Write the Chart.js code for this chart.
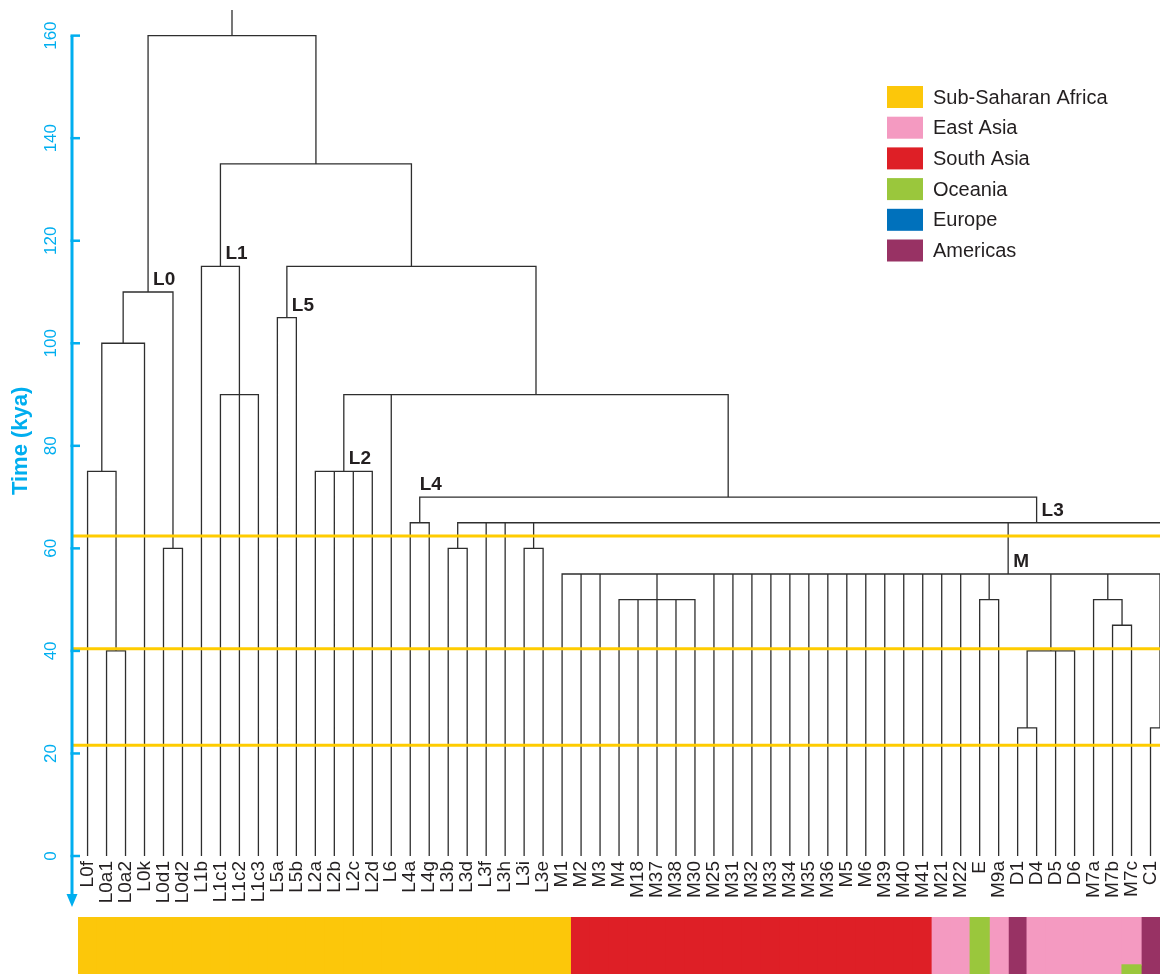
<!DOCTYPE html>
<html>
<head>
<meta charset="utf-8">
<script src="https://cdn.jsdelivr.net/npm/chart.js@4/dist/chart.umd.min.js"></script>
<style>
html, body { margin: 0; padding: 0; background: #fff; overflow: hidden; }
#wrap { position: relative; width: 1160px; height: 974px; }
#tree { position: absolute; left: 0; top: 0; }
#bar { position: absolute; left: 0; top: 917px; }
</style>
</head>
<body>
<div id="wrap">
  <canvas id="tree" width="1160" height="915"></canvas>
  <canvas id="bar" width="1160" height="57"></canvas>
</div>
<script>
// ---------------- DATA ----------------
const leaves = ['L0f','L0a1','L0a2','L0k','L0d1','L0d2','L1b','L1c1','L1c2','L1c3','L5a','L5b',
  'L2a','L2b','L2c','L2d','L6','L4a','L4g','L3b','L3d','L3f','L3h','L3i','L3e',
  'M1','M2','M3','M4','M18','M37','M38','M30','M25','M31','M32','M33','M34','M35','M36',
  'M5','M6','M39','M40','M41','M21','M22','E','M9a','D1','D4','D5','D6','M7a','M7b','M7c','C1'];

// lineages that continue beyond the right edge of the cropped figure (unlabelled)
const offFrameLeaves = ['>1','>2','>3','>4','>5','>6','>7','>8','>9','>10','>11','>12','>13','>14','>15','>16',
  '>17','>18','>19','>20','>21','>22','>23','>24','>25','>26','>27','>28','>29','>30','>31','>32'];

// internal nodes (listed children-first), their ages (kya) and children
const nodeNames = ['L0a','L0fa','L0fak','L0d','L0','L1c','L1','L5','L2','L4','L3bd','L3ie',
  'M4grp','EM9a','D1D4','D','M7bc','M7','C','M','N','L3','L3L4','L2L6','L5L2','L1L5','root'];
const nodeHeights = [40, 75, 100, 60, 110, 90, 115, 105, 75, 65, 60, 60,
  50, 50, 25, 40, 45, 50, 25, 55, 60, 65, 70, 90, 115, 135, 160];
const nodeChildren = [
  ['L0a1','L0a2'],
  ['L0f','L0a'],
  ['L0fa','L0k'],
  ['L0d1','L0d2'],
  ['L0fak','L0d'],
  ['L1c1','L1c2','L1c3'],
  ['L1b','L1c'],
  ['L5a','L5b'],
  ['L2a','L2b','L2c','L2d'],
  ['L4a','L4g'],
  ['L3b','L3d'],
  ['L3i','L3e'],
  ['M4','M18','M37','M38','M30'],
  ['E','M9a'],
  ['D1','D4'],
  ['D1D4','D5','D6'],
  ['M7b','M7c'],
  ['M7a','M7bc'],
  ['C1','>1'],
  ['M1','M2','M3','M4grp','M25','M31','M32','M33','M34','M35','M36','M5','M6','M39','M40','M41',
   'M21','M22','EM9a','D','M7','C','>2','>3','>4','>5','>6','>7','>8','>9','>10','>11','>12',
   '>13','>14','>15','>16'],
  ['>17','>18','>19','>20','>21','>22','>23','>24','>25','>26','>27','>28','>29','>30','>31','>32'],
  ['L3bd','L3f','L3h','L3ie','M','N'],
  ['L4','L3'],
  ['L2','L6','L3L4'],
  ['L5','L2L6'],
  ['L1','L5L2'],
  ['L0','L1L5']
];
const rootStemTop = 165;

const cladeLabels = ['L0','L1','L5','L2','L4','L3','M'];
const cladeLabelAtJoin = ['L4'];

const yTicks = [0, 20, 40, 60, 80, 100, 120, 140, 160];
const yTitle = 'Time (kya)';
const referenceLines = [62.4, 40.4, 21.6];

const regionCodes = ['AF','EA','SA','OC','EU','AM'];
const regionNames = ['Sub-Saharan Africa','East Asia','South Asia','Oceania','Europe','Americas'];
const regionColors = ['#FCC70A','#F49AC1','#DE1F26','#9AC73C','#0071BC','#983264'];
const leafRegion = ['AF','AF','AF','AF','AF','AF','AF','AF','AF','AF','AF','AF','AF','AF','AF','AF',
  'AF','AF','AF','AF','AF','AF','AF','AF','AF','AF',
  'SA','SA','SA','SA','SA','SA','SA','SA','SA','SA','SA','SA','SA','SA','SA','SA','SA','SA','SA',
  'EA','EA','OC','EA','AM','EA','EA','EA','EA','EA','EA','AM'];
const mixedLeafShares = { M7c: { OC: 0.16 } };

// ---------------- BUILD ----------------
const FONT = '"Liberation Sans", Arial, Helvetica, sans-serif';
const INK = '#231f20';
const BLUE = '#00AEEF';
const X_MIN = -0.82, X_MAX = 56.5;

const allLeaves = leaves.concat(offFrameLeaves);
const pos = {}, hgt = {};
allLeaves.forEach((n, i) => { pos[n] = i; hgt[n] = 0; });
nodeNames.forEach((n, k) => {
  const xs = nodeChildren[k].map(c => pos[c]);
  pos[n] = (Math.min(...xs) + Math.max(...xs)) / 2;
  hgt[n] = nodeHeights[k];
});
const parentOf = {};
nodeNames.forEach((n, k) => nodeChildren[k].forEach(c => { parentOf[c] = n; }));

const treePts = [];
const GAP = { x: null, y: null };
nodeNames.forEach((n, k) => {
  const ch = nodeChildren[k].slice().sort((a, b) => pos[a] - pos[b]);
  const h = hgt[n];
  const first = ch[0], last = ch[ch.length - 1];
  treePts.push({ x: pos[first], y: hgt[first] }, { x: pos[first], y: h },
               { x: pos[last], y: h }, { x: pos[last], y: hgt[last] }, GAP);
  ch.slice(1, -1).forEach(c => treePts.push({ x: pos[c], y: hgt[c] }, { x: pos[c], y: h }, GAP));
});
treePts.push({ x: pos.root, y: hgt.root }, { x: pos.root, y: rootStemTop });

const refDatasets = referenceLines.map(v => ({
  label: 'ref ' + v,
  data: [{ x: X_MIN, y: v }, { x: X_MAX, y: v }],
  borderColor: '#FFCC00', borderWidth: 3, pointRadius: 0, fill: false
}));

const overlay = {
  id: 'overlay',
  afterDraw(chart) {
    const { ctx, chartArea, scales: { x, y } } = chart;
    const ax = chartArea.left;
    ctx.save();
    // axis line with arrow
    ctx.strokeStyle = BLUE; ctx.fillStyle = BLUE; ctx.lineWidth = 3;
    const yTop = y.getPixelForValue(yTicks[yTicks.length - 1]);
    const tip = chartArea.bottom + 51;
    ctx.beginPath(); ctx.moveTo(ax, yTop); ctx.lineTo(ax, tip - 10); ctx.stroke();
    ctx.beginPath(); ctx.moveTo(ax - 5.5, tip - 13); ctx.lineTo(ax + 5.5, tip - 13); ctx.lineTo(ax, tip); ctx.closePath(); ctx.fill();
    ctx.lineWidth = 2.5;
    yTicks.forEach(v => {
      const py = y.getPixelForValue(v);
      ctx.beginPath(); ctx.moveTo(ax - 1.5, py); ctx.lineTo(ax + 8, py); ctx.stroke();
    });
    ctx.font = '17px ' + FONT; ctx.textAlign = 'center'; ctx.textBaseline = 'middle';
    yTicks.forEach(v => {
      const py = y.getPixelForValue(v);
      ctx.save(); ctx.translate(ax - 21, py); ctx.rotate(-Math.PI / 2); ctx.fillText(String(v), 0, 0); ctx.restore();
    });
    ctx.font = 'bold 22px ' + FONT;
    const mid = (y.getPixelForValue(yTicks[0]) + yTop) / 2 - 5;
    ctx.save(); ctx.translate(ax - 51, mid); ctx.rotate(-Math.PI / 2); ctx.fillText(yTitle, 0, 0); ctx.restore();

    // clade labels
    ctx.fillStyle = INK; ctx.font = 'bold 19px ' + FONT; ctx.textAlign = 'left'; ctx.textBaseline = 'alphabetic';
    cladeLabels.forEach(n => {
      const atJoin = cladeLabelAtJoin.includes(n);
      const px = x.getPixelForValue(pos[n]) + (atJoin ? 0 : 5);
      const py = y.getPixelForValue(atJoin ? hgt[parentOf[n]] : hgt[n]) - 7;
      ctx.fillText(n, px, py);
    });

    // legend
    ctx.font = '20px ' + FONT; ctx.textBaseline = 'middle';
    regionNames.forEach((r, i) => {
      const top = 86 + i * 30.7;
      ctx.fillStyle = regionColors[i]; ctx.fillRect(887, top, 36, 22);
      ctx.fillStyle = INK; ctx.fillText(r, 933, top + 12);
    });
    ctx.restore();
  }
};

const treeChart = new Chart(document.getElementById('tree'), {
  type: 'line',
  data: {
    datasets: refDatasets.concat([{
      label: 'tree', data: treePts, borderColor: '#2e2e2e', borderWidth: 1.3,
      pointRadius: 0, fill: false, spanGaps: false, tension: 0
    }])
  },
  options: {
    responsive: false, animation: false, events: [],
    layout: { padding: { left: 72, right: 0, top: 10, bottom: 0 } },
    scales: {
      x: {
        type: 'linear', min: X_MIN, max: X_MAX, bounds: 'data',
        grid: { display: false, drawTicks: false }, border: { display: false },
        afterBuildTicks: s => { s.ticks = leaves.map((_, i) => ({ value: i })); },
        afterFit: s => { s.height = 59; s.paddingLeft = 0; s.paddingRight = 0; },
        ticks: {
          autoSkip: false, minRotation: 90, maxRotation: 90, padding: 5,
          color: INK, font: { family: FONT, size: 19 },
          callback: v => leaves[v]
        }
      },
      y: { type: 'linear', min: 0, max: rootStemTop, display: false }
    },
    plugins: { legend: { display: false }, tooltip: { enabled: false } }
  },
  plugins: [overlay]
});

// region colour strip: one band per leaf, aligned with the tree's leaf positions
function share(i, code) {
  const mix = mixedLeafShares[leaves[i]] || {};
  if (code in mix) return mix[code];
  if (leafRegion[i] === code) return 1 - Object.values(mix).reduce((a, b) => a + b, 0);
  return null;
}
const tx = treeChart.scales.x;
const unit = tx.getPixelForValue(1) - tx.getPixelForValue(0);
const bandLeft = tx.getPixelForValue(0) - unit / 2;
const stackOrder = ['OC', 'EA', 'SA', 'AF', 'EU', 'AM'];
new Chart(document.getElementById('bar'), {
  type: 'bar',
  data: {
    labels: leaves,
    datasets: stackOrder.map(code => {
      const k = regionCodes.indexOf(code);
      return {
        label: regionNames[k],
        data: leaves.map((_, i) => share(i, code)),
        backgroundColor: regionColors[k], borderWidth: 0,
        barPercentage: 1, categoryPercentage: 1, inflateAmount: 0.6
      };
    })
  },
  options: {
    responsive: false, animation: false, events: [],
    layout: { padding: { left: bandLeft, right: 1160 - (bandLeft + unit * leaves.length), top: 0, bottom: 0 } },
    scales: {
      x: { type: 'category', offset: true, stacked: true, display: false },
      y: { min: 0, max: 1, stacked: true, display: false }
    },
    plugins: { legend: { display: false }, tooltip: { enabled: false } }
  }
});
</script>
</body>
</html>
